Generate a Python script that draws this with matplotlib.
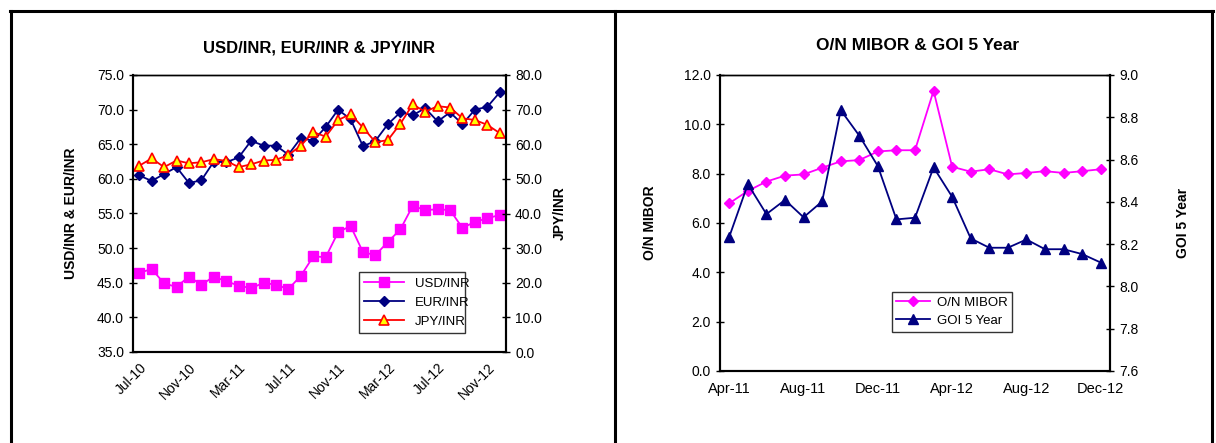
import matplotlib
matplotlib.use("Agg")
import matplotlib.pyplot as plt
from matplotlib.lines import Line2D
from matplotlib.ticker import FormatStrFormatter, MultipleLocator

plt.rcParams['font.family'] = ['Liberation Sans', 'DejaVu Sans']

# left chart: monthly Jul-10 .. Dec-12
fx_months = ['Jul-10', 'Aug-10', 'Sep-10', 'Oct-10', 'Nov-10', 'Dec-10',
             'Jan-11', 'Feb-11', 'Mar-11', 'Apr-11', 'May-11', 'Jun-11',
             'Jul-11', 'Aug-11', 'Sep-11', 'Oct-11', 'Nov-11', 'Dec-11',
             'Jan-12', 'Feb-12', 'Mar-12', 'Apr-12', 'May-12', 'Jun-12',
             'Jul-12', 'Aug-12', 'Sep-12', 'Oct-12', 'Nov-12', 'Dec-12']
usd_inr = [46.4, 47.0, 44.9, 44.4, 45.9, 44.7, 45.9, 45.2, 44.6, 44.2,
           45.0, 44.7, 44.1, 46.0, 48.8, 48.7, 52.3, 53.2, 49.4, 49.0,
           50.9, 52.7, 56.1, 55.5, 55.6, 55.5, 52.9, 53.8, 54.3, 54.8]
eur_inr = [60.5, 59.7, 60.7, 61.7, 59.4, 59.8, 62.5, 62.4, 63.1, 65.5,
           64.8, 64.8, 63.5, 65.9, 65.5, 67.5, 70.0, 68.6, 64.7, 65.5,
           67.9, 69.6, 69.2, 70.2, 68.3, 69.6, 67.9, 70.0, 70.4, 72.5]
jpy_inr = [53.8, 55.9, 53.4, 55.3, 54.5, 54.8, 55.7, 55.2, 53.4, 54.2,
           55.3, 55.5, 56.9, 59.6, 63.5, 62.2, 67.0, 68.7, 64.8, 60.6,
           61.2, 65.9, 71.5, 69.4, 71.0, 70.6, 67.5, 67.0, 65.6, 63.2]

# right chart: monthly Apr-11 .. Dec-12
rate_months = ['Apr-11', 'May-11', 'Jun-11', 'Jul-11', 'Aug-11', 'Sep-11',
               'Oct-11', 'Nov-11', 'Dec-11', 'Jan-12', 'Feb-12', 'Mar-12',
               'Apr-12', 'May-12', 'Jun-12', 'Jul-12', 'Aug-12', 'Sep-12',
               'Oct-12', 'Nov-12', 'Dec-12']
mibor = [6.8, 7.3, 7.68, 7.92, 7.97, 8.24, 8.5, 8.55, 8.9, 8.95, 8.95,
         11.36, 8.28, 8.08, 8.18, 7.97, 8.03, 8.1, 8.03, 8.1, 8.18]
goi5 = [8.235, 8.484, 8.342, 8.409, 8.327, 8.402, 8.834, 8.713, 8.569,
        8.317, 8.325, 8.563, 8.424, 8.227, 8.183, 8.183, 8.222, 8.176,
        8.176, 8.153, 8.113]

W, H = 1216, 443
fig = plt.figure(figsize=(W / 100, H / 100), dpi=100)

def box(x0, y0, x1, y1):
    return [x0 / W, 1 - y1 / H, (x1 - x0) / W, (y1 - y0) / H]

# panel frame
for x in (10.7, 615, 1211.7):
    fig.add_artist(Line2D([x / W, x / W], [0, 1 - 11 / H], color='black', lw=2.2))
fig.add_artist(Line2D([10 / W, 1212.5 / W], [1 - 11 / H, 1 - 11 / H], color='black', lw=2.2))

TICK = dict(direction='inout', length=6, width=1, labelsize=10, colors='black')

# ---- left chart
ax = fig.add_axes(box(133, 75, 506, 352))
ax2 = ax.twinx()
xi = range(len(fx_months))
l1, = ax.plot(xi, usd_inr, color='#FF00FF', lw=1.3, marker='s', ms=7,
              mfc='#FF00FF', mec='#FF00FF', label='USD/INR')
l2, = ax.plot(xi, eur_inr, color='#000080', lw=1.3, marker='D', ms=5.5,
              mfc='#000080', mec='#000080', label='EUR/INR')
l3, = ax2.plot(xi, jpy_inr, color='#FF0000', lw=1.3, marker='^', ms=7.5,
               mfc='#FFFF00', mec='#FF0000', mew=1.2, label='JPY/INR')
ax.set_xlim(-0.5, len(fx_months) - 0.5)
ax.set_ylim(35, 75)
ax2.set_ylim(0, 80)
ax.yaxis.set_major_locator(MultipleLocator(5))
ax2.yaxis.set_major_locator(MultipleLocator(10))
ax.yaxis.set_major_formatter(FormatStrFormatter('%.1f'))
ax2.yaxis.set_major_formatter(FormatStrFormatter('%.1f'))
ax.set_xticks(list(xi)[::4])
ax.set_xticklabels(fx_months[::4], rotation=45, ha='right', rotation_mode='anchor')
ax.tick_params(axis='y', **TICK)
ax2.tick_params(axis='y', **TICK)
ax.tick_params(axis='x', length=0, labelsize=10, pad=6)
ax.set_ylabel('USD/INR & EUR/INR', fontsize=10, fontweight='bold')
ax2.set_ylabel('JPY/INR', fontsize=10, fontweight='bold')
ax.yaxis.set_label_coords(-0.147, 0.5)
ax2.yaxis.set_label_coords(1.126, 0.5)
for a in (ax, ax2):
    for s in a.spines.values():
        s.set_linewidth(1.5)
ax2.spines['top'].set_linewidth(1.0)
ax.spines['top'].set_linewidth(1.0)
leg = ax2.legend(handles=[l1, l2, l3], loc='lower left',
                 bbox_to_anchor=(0.587, 0.043, 0.322, 0.228), mode='expand',
                 fontsize=9.5, frameon=True, fancybox=False, edgecolor='black',
                 borderpad=0.45, labelspacing=0.5, handlelength=3.0)
leg.get_frame().set_linewidth(1.0)
fig.text(319.5 / W, 1 - 48 / H, 'USD/INR, EUR/INR & JPY/INR', ha='center',
         va='center', fontsize=12, fontweight='bold')

# ---- right chart
bx = fig.add_axes(box(720, 75, 1110, 371))
bx2 = bx.twinx()
ri = range(len(rate_months))
m1, = bx.plot(ri, mibor, color='#FF00FF', lw=1.3, marker='D', ms=5.5,
              mfc='#FF00FF', mec='#FF00FF', label='O/N MIBOR')
m2, = bx2.plot(ri, goi5, color='#000080', lw=1.3, marker='^', ms=7.5,
               mfc='#000080', mec='#000080', label='GOI 5 Year')
bx.set_xlim(-0.5, len(rate_months) - 0.5)
bx.set_ylim(0, 12)
bx2.set_ylim(7.6, 9.0)
bx.yaxis.set_major_locator(MultipleLocator(2))
bx2.set_yticks([7.6, 7.8, 8.0, 8.2, 8.4, 8.6, 8.8, 9.0])
bx.yaxis.set_major_formatter(FormatStrFormatter('%.1f'))
bx2.yaxis.set_major_formatter(FormatStrFormatter('%.1f'))
bx.set_xticks(list(ri)[::4])
bx.set_xticklabels(rate_months[::4])
bx.tick_params(axis='y', **TICK)
bx2.tick_params(axis='y', **TICK)
bx.tick_params(axis='x', length=0, labelsize=10.5, pad=8)
bx.set_ylabel('O/N MIBOR', fontsize=10, fontweight='bold')
bx2.set_ylabel('GOI 5 Year', fontsize=10, fontweight='bold')
bx.yaxis.set_label_coords(-0.1615, 0.5)
bx2.yaxis.set_label_coords(1.169, 0.5)
for a in (bx, bx2):
    for s in a.spines.values():
        s.set_linewidth(1.5)
bx.spines['top'].set_linewidth(1.0)
bx2.spines['top'].set_linewidth(1.0)
leg2 = bx2.legend(handles=[m1, m2], loc='lower left',
                  bbox_to_anchor=(0.423, 0.111), fontsize=9.5, frameon=True,
                  fancybox=False, edgecolor='black', borderpad=0.35,
                  labelspacing=0.45, handlelength=2.6, handletextpad=0.5)
leg2.get_frame().set_linewidth(1.0)
fig.text(918 / W, 1 - 46 / H, 'O/N MIBOR & GOI 5 Year', ha='center',
         va='center', fontsize=12.5, fontweight='bold')

fig.savefig('out.png', dpi=100)
